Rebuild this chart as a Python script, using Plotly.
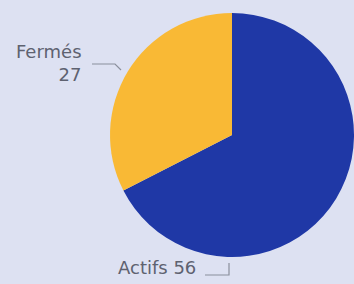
import plotly.graph_objects as go

labels = ["Actifs", "Fermés"]
values = [56, 27]
colors = ["#1f38a6", "#f9b935"]

W, H = 354, 284

def px(x):
    return x / W

def py(y):
    return 1 - y / H

fig = go.Figure(go.Pie(
    labels=labels,
    values=values,
    marker=dict(colors=colors, line=dict(width=0)),
    sort=False,
    direction="clockwise",
    rotation=0,
    textinfo="none",
    hoverinfo="label+value",
    showlegend=False,
    domain=dict(x=[px(110), 1], y=[py(258), py(12)]),
))

font = dict(family="DejaVu Sans", size=18, color="#5e6270")

fig.add_annotation(text=f"{labels[1]}<br>{values[1]}", x=px(84), y=py(63),
                   xref="paper", yref="paper", xanchor="right", yanchor="middle",
                   align="right", showarrow=False, font=font)
fig.add_annotation(text=f"{labels[0]} {values[0]}", x=px(198), y=py(267),
                   xref="paper", yref="paper", xanchor="right", yanchor="middle",
                   align="right", showarrow=False, font=font)

line = dict(color="#8a8f9c", width=1.2)
fig.add_shape(type="path", xref="paper", yref="paper",
              path=f"M {px(92)} {py(64)} L {px(115)} {py(64)} L {px(121)} {py(70)}",
              line=line)
fig.add_shape(type="path", xref="paper", yref="paper",
              path=f"M {px(205)} {py(275)} L {px(229)} {py(275)} L {px(229)} {py(263)}",
              line=line)

fig.update_layout(
    width=W, height=H,
    margin=dict(l=0, r=0, t=0, b=0),
    paper_bgcolor="#dde1f2",
    plot_bgcolor="#dde1f2",
)

fig.write_html(
    "out.html",
    config={"displayModeBar": False},
    post_script="document.body.style.margin='0';document.body.style.padding='0';"
                "document.body.style.overflow='hidden';"
                "document.body.style.background='#dde1f2';",
)
